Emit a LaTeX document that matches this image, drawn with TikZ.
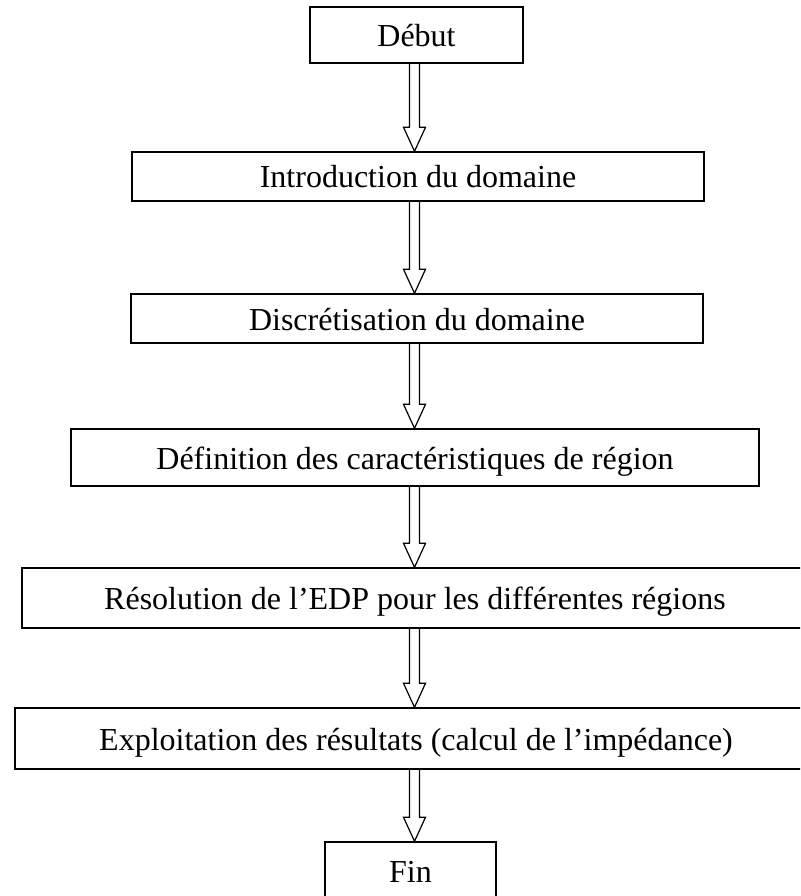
\documentclass[tikz,border=0pt]{standalone}
\usepackage{fontspec}
\setmainfont{Liberation Serif}
\usetikzlibrary{calc}
\newcommand{\hollowarrow}[2]{%
  \draw[arrowline]
    ($(#1.south -| axis)+(-5,0)$) --
    ($(#2.north -| axis)+(-5,-24)$) --
    ($(#2.north -| axis)+(-11,-24)$) --
    (#2.north -| axis) --
    ($(#2.north -| axis)+(11,-24)$) --
    ($(#2.north -| axis)+(5,-24)$) --
    ($(#1.south -| axis)+(5,0)$);}
\begin{document}
\begin{tikzpicture}[x=1pt,y=-1pt,
  box/.style={draw=black, line width=1.4pt, inner sep=0pt,
    text height=23pt, text depth=0pt,
    font=\fontsize{32}{38}\selectfont},
  arrowline/.style={draw=black, line width=1.2pt, line join=miter}]
\useasboundingbox (0,0) rectangle (800,896);
\clip (0,0) rectangle (800,896);
\coordinate (axis) at (414.5,0);
\node[box, minimum width=213pt, minimum height=56pt] (debut) at (416.5,35) {Début};
\node[box, minimum width=572pt, minimum height=49pt] (intro) at (418,176.5) {Introduction du domaine};
\node[box, minimum width=572pt, minimum height=49pt] (discr) at (417,318.5) {Discrétisation du domaine};
\node[box, minimum width=688pt, minimum height=57pt] (defin) at (415,457.5) {Définition des caractéristiques de région};
\node[box, minimum width=786pt, minimum height=60pt] (resol) at (415,598) {Résolution de l’EDP pour les différentes régions};
\node[box, minimum width=802pt, minimum height=61pt] (exploit) at (416,738.5) {Exploitation des résultats (calcul de l’impédance)};
\node[box, minimum width=171pt, minimum height=58pt] (fin) at (410.5,871) {Fin};
\hollowarrow{debut}{intro}
\hollowarrow{intro}{discr}
\hollowarrow{discr}{defin}
\hollowarrow{defin}{resol}
\hollowarrow{resol}{exploit}
\hollowarrow{exploit}{fin}
\end{tikzpicture}
\end{document}
